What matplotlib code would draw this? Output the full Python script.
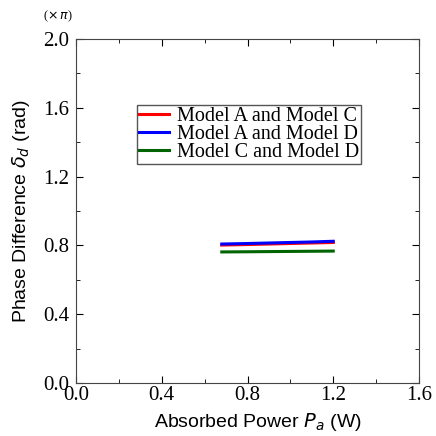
import numpy as np
import matplotlib.pyplot as plt

power = [0.68, 0.8, 0.9, 1.0, 1.1, 1.2]
ac = [0.802, 0.805, 0.808, 0.811, 0.814, 0.817]
ad = [0.808, 0.811, 0.814, 0.817, 0.820, 0.824]
cd = [0.762, 0.763, 0.764, 0.765, 0.766, 0.767]

plt.rcParams['mathtext.fontset'] = 'dejavusans'
fig = plt.figure(figsize=(4.36, 4.36), dpi=100)
ax = fig.add_axes([76/436, 1-383/436, 343/436, 344/436])

ax.plot(power, ac, c='red', lw=2.2, label='Model A and Model C')
ax.plot(power, ad, c='blue', lw=2.2, label='Model A and Model D')
ax.plot(power, cd, c='darkgreen', lw=2.2, label='Model C and Model D')

ax.set_xlim(0, 1.6)
ax.set_ylim(0, 2.0)
ax.set_xticks(np.arange(0, 1.61, 0.4))
ax.set_yticks(np.arange(0, 2.01, 0.4))
ax.set_xticks(np.arange(0, 1.61, 0.2), minor=True)
ax.set_yticks(np.arange(0, 2.01, 0.2), minor=True)
ax.tick_params(which='both', direction='in', top=True, right=True, labelsize=15)
ax.tick_params(which='major', length=5)
ax.tick_params(which='minor', length=3)
ax.set_xticklabels(['0.0', '0.4', '0.8', '1.2', '1.6'])
ax.set_yticklabels(['0.0', '0.4', '0.8', '1.2', '1.6', '2.0'])
for lab in ax.get_xticklabels() + ax.get_yticklabels():
    lab.set_family('Liberation Serif')
ax.tick_params(axis='x', pad=2)
ax.tick_params(axis='y', pad=5)
for sp in ax.spines.values():
    sp.set_color('#444444')

ax.set_xlabel(r'Absorbed Power $P_a$ (W)', fontsize=14, family='Liberation Sans')
ax.xaxis.set_label_coords(0.53, -0.082)
ax.set_ylabel(r'Phase Difference $\delta_d$ (rad)', fontsize=14, family='Liberation Sans', labelpad=8)
fig.text(58/436, 1-16/436, r'($\times\,\pi$)', fontsize=9, ha='center', va='center', family='Liberation Serif')

leg = ax.legend(loc='center', bbox_to_anchor=(0.504, 0.722), prop={'family': 'Liberation Serif', 'size': 14.5},
                fancybox=False, edgecolor='#555555', framealpha=1, handlelength=1.5,
                labelspacing=-0.05, borderpad=0.08, handletextpad=0.4, borderaxespad=0)
leg.get_frame().set_linewidth(1.0)

fig.savefig('out.png', dpi=100)
